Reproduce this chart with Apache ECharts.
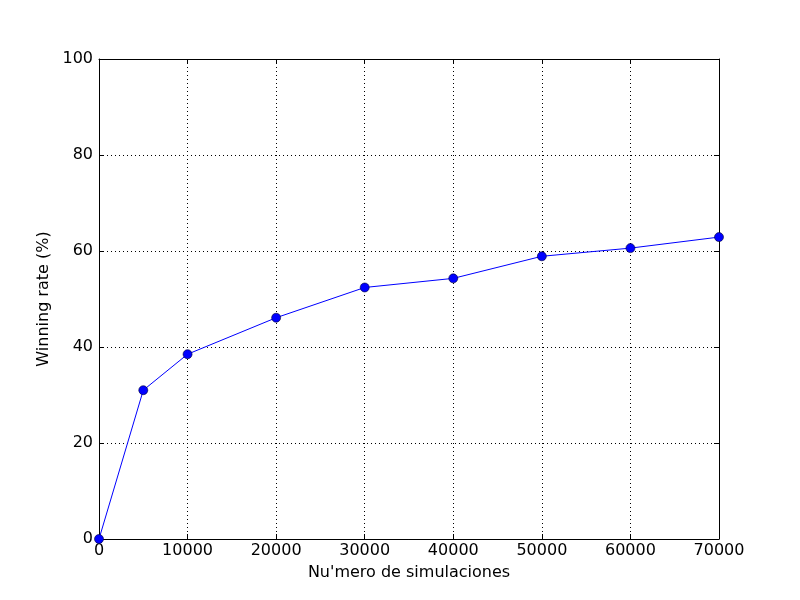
<!DOCTYPE html>
<html><head><meta charset="utf-8">
<script src="https://cdn.jsdelivr.net/npm/echarts@6/dist/echarts.min.js"></script>
<style>html,body{margin:0;padding:0;background:#fff}#c{width:800px;height:600px}</style>
</head><body><div id="c"></div>
<script>
const xValues = [0, 5000, 10000, 20000, 30000, 40000, 50000, 60000, 70000];
const winRate = [0, 31.0, 38.5, 46.1, 52.4, 54.3, 58.9, 60.6, 62.9];
const xTitle = "Nu'mero de simulaciones";
const yTitle = "Winning rate (%)";

const font = 'DejaVu Sans';
const fs = 16;
const chart = echarts.init(document.getElementById('c'));
const tickIn = {show: true, inside: true, length: 5, lineStyle: {color: '#000', width: 1}};
chart.setOption({
  animation: false,
  backgroundColor: '#fff',
  grid: {left: 99, right: 81, top: 59, bottom: 61, show: false},
  xAxis: [{
    type: 'value', min: 0, max: 70000, interval: 10000,
    name: xTitle, nameLocation: 'middle', nameGap: 26,
    nameTextStyle: {fontFamily: font, fontSize: fs, color: '#000'},
    axisLine: {show: true, onZero: false, lineStyle: {color: '#000', width: 1}},
    axisTick: tickIn,
    axisLabel: {fontFamily: font, fontSize: fs, color: '#000', margin: 4, formatter: v => String(v)},
    splitLine: {show: true, lineStyle: {color: '#000', type: [1, 3], width: 1}}
  }, {
    type: 'value', min: 0, max: 70000, interval: 10000, position: 'top',
    axisLine: {show: true, onZero: false, lineStyle: {color: '#000', width: 1}},
    axisTick: tickIn, axisLabel: {show: false}, splitLine: {show: false}
  }],
  yAxis: [{
    type: 'value', min: 0, max: 100, interval: 20,
    name: yTitle, nameLocation: 'middle', nameGap: 43,
    nameTextStyle: {fontFamily: font, fontSize: fs, color: '#000'},
    axisLine: {show: true, onZero: false, lineStyle: {color: '#000', width: 1}},
    axisTick: tickIn,
    axisLabel: {fontFamily: font, fontSize: fs, color: '#000', margin: 6},
    splitLine: {show: true, lineStyle: {color: '#000', type: [1, 3], width: 1}}
  }, {
    type: 'value', min: 0, max: 100, interval: 20, position: 'right',
    axisLine: {show: true, onZero: false, lineStyle: {color: '#000', width: 1}},
    axisTick: tickIn, axisLabel: {show: false}, splitLine: {show: false}
  }],
  series: [{
    type: 'line',
    data: xValues.map((x, i) => [x, winRate[i]]),
    symbol: 'circle', symbolSize: 9,
    lineStyle: {color: '#0000ff', width: 1},
    itemStyle: {color: '#0000ff', borderColor: '#000033', borderWidth: 0.6},
    clip: false
  }]
});
</script></body></html>
